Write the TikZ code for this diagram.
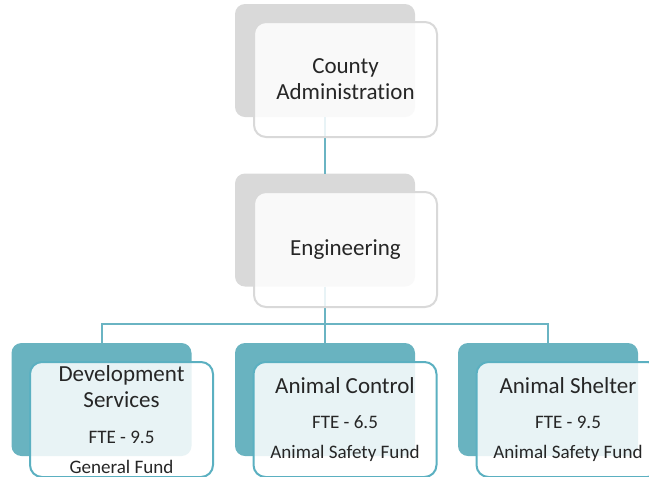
\documentclass[tikz,border=0pt]{standalone}
\usepackage{fontspec}
\setmainfont{Carlito}[Ligatures=NoCommon]
\usetikzlibrary{positioning,calc}
\definecolor{backgrey}{HTML}{D9D9D9}
\definecolor{edgegrey}{HTML}{D9D9D9}
\definecolor{backteal}{HTML}{69B3C0}
\definecolor{edgeteal}{HTML}{5BB0C1}
\definecolor{linkteal}{HTML}{6AB4C3}
\definecolor{labeltext}{HTML}{262626}
\newcommand{\minorline}{\fontsize{14.3}{17}\selectfont}

\begin{document}
\begin{tikzpicture}[x=0.75pt,y=-0.75pt]
\tikzstyle{backbox}=[rounded corners=7.5pt,minimum width=135pt,minimum height=84.75pt,inner sep=0pt,outer sep=0pt]
\tikzstyle{frontbox}=[draw,line width=1.5pt,rounded corners=9pt,minimum width=137.25pt,minimum height=86.25pt,fill=white,fill opacity=0.85,text opacity=1,text=labeltext,align=center,inner sep=0pt,font=\fontsize{17.25}{19.5}\selectfont]
\tikzstyle{link}=[draw=linkteal,line width=1.5pt]
\clip (0,0) rectangle (649,476);
\node[backbox,fill=backgrey] (cadminback) at (325,60.5) {};
\node[backbox,fill=backgrey] (engback) at (325,230) {};
\node[backbox,fill=backteal] (devback) at (101.5,399.5) {};
\node[backbox,fill=backteal] (ctrlback) at (325,399.5) {};
\node[backbox,fill=backteal] (shelback) at (548,399.5) {};
\coordinate (split) at (325,324);
\draw[link] (cadminback) -- (engback);
\draw[link] (engback) -- (split);
\draw[link] (devback.north) |- (split) -| (shelback.north);
\draw[link] (split) -- (ctrlback);
\node[frontbox,draw=edgegrey] (cadmin) at ([shift={(20.5,19)}]cadminback.center) {County\\Administration};
\node[frontbox,draw=edgegrey] (eng) at ([shift={(20.5,19.5)}]engback.center) {Engineering};
\node[frontbox,draw=edgeteal] (devsvc) at ([shift={(20,20)}]devback.center) {Development\\Services\\[7pt]{\minorline FTE - 9.5}\\[3pt]{\minorline General Fund}};
\node[frontbox,draw=edgeteal] (anctrl) at ([shift={(20,20)}]ctrlback.center) {Animal Control\\[7pt]{\minorline FTE - 6.5}\\[3pt]{\minorline Animal Safety Fund}};
\node[frontbox,draw=edgeteal] (anshel) at ([shift={(20,20)}]shelback.center) {Animal Shelter\\[7pt]{\minorline FTE - 9.5}\\[3pt]{\minorline Animal Safety Fund}};
\end{tikzpicture}
\end{document}
